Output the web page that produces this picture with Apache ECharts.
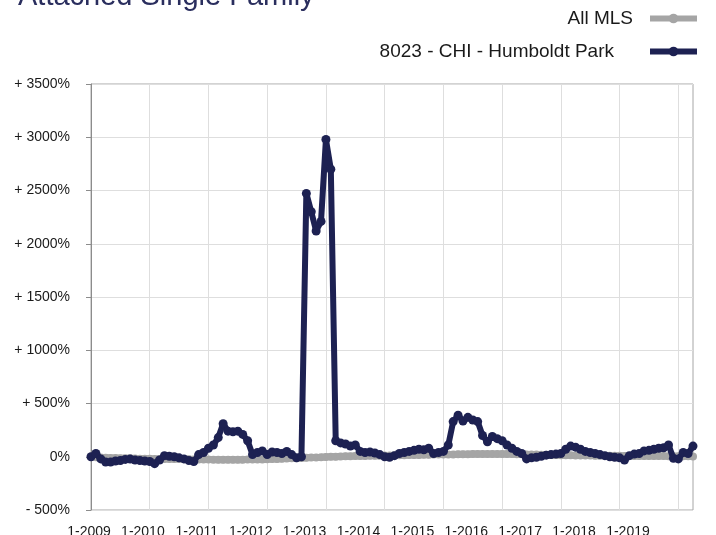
<!DOCTYPE html>
<html>
<head>
<meta charset="utf-8">
<script src="https://cdn.jsdelivr.net/npm/echarts@6/dist/echarts.min.js"></script>
<style>
  html, body { margin: 0; padding: 0; background: #fff; }
  #chart { width: 716px; height: 535px; }
</style>
</head>
<body>
<div id="chart"></div>
<script>
// year tick labels shown under the axis
var yearLabels = ['1-2009', '1-2010', '1-2011', '1-2012', '1-2013', '1-2014',
                  '1-2015', '1-2016', '1-2017', '1-2018', '1-2019'];

// monthly categories, 1-2009 .. 4-2019
var months = [];
for (var y = 2009; y <= 2019; y++) {
  for (var m = 1; m <= 12; m++) {
    if (y === 2019 && m > 4) break;
    months.push(m + '-' + y);
  }
}

// % change, All MLS
var allMls = [
  0, -5, -8, -10, -12, -12, -14, -15, -15, -16, -18, -18,
  -18, -20, -20, -20, -22, -22, -22, -24, -24, -25, -25, -26,
  -26, -27, -28, -28, -28, -28, -27, -27, -26, -26, -25, -25,
  -24, -22, -20, -18, -17, -15, -14, -12, -10, -8, -6, -5,
  -3, -1, 0, 2, 4, 5, 6, 7, 8, 9, 10, 10,
  11, 12, 13, 14, 15, 16, 17, 17, 18, 19, 20, 20,
  21, 22, 22, 23, 24, 24, 25, 25, 25, 26, 26, 26,
  26, 25, 25, 24, 23, 22, 21, 20, 19, 18, 17, 16,
  15, 14, 13, 12, 12, 11, 11, 10, 10, 10, 9, 9,
  9, 8, 8, 8, 7, 7, 7, 6, 6, 6, 5, 5,
  5, 4, 4, 3
];

// % change, 8023 - CHI - Humboldt Park
var humboldt = [
  0, 30, -20, -50, -50, -40, -35, -25, -22, -30, -35, -40,
  -45, -65, -30, 10, 5, 0, -10, -20, -35, -45, 20, 40,
  80, 110, 180, 310, 240, 235, 240, 210, 150, 20, 40, 55,
  20, 45, 40, 30, 50, 20, -10, 0, 2473, 2300, 2120, 2210,
  2980, 2700, 150, 130, 120, 100, 110, 50, 40, 45, 35, 20,
  0, -5, 10, 30, 40, 50, 60, 70, 65, 80, 30, 40,
  50, 110, 330, 390, 335, 370, 345, 330, 200, 140, 190, 170,
  150, 110, 80, 50, 30, -20, -10, -5, 5, 15, 20, 25,
  30, 70, 100, 90, 70, 50, 40, 30, 20, 10, 0, -5,
  -10, -30, 10, 25, 30, 55, 60, 70, 80, 85, 110, -15,
  -20, 40, 30, 100
];

var navy = '#1d2152';
var grey = '#a5a5a5';

var myChart = echarts.init(document.getElementById('chart'));

var option = {
  animation: false,
  title: {
    text: 'Attached Single Family',
    left: 18,
    top: -18,
    padding: 0,
    textStyle: { color: '#2a2e5e', fontSize: 29, fontWeight: 'normal', fontFamily: 'Liberation Sans' }
  },
  legend: [
    {
      data: ['All MLS'],
      right: 16, top: 9, padding: 0,
      align: 'right',
      itemWidth: 47, itemHeight: 12,
      lineStyle: { width: 6 },
      textStyle: { fontSize: 19, color: '#1a1a1a', fontFamily: 'Liberation Sans', padding: [0, 12, 0, 0] }
    },
    {
      data: ['8023 - CHI - Humboldt Park'],
      right: 16, top: 42, padding: 0,
      align: 'right',
      itemWidth: 47, itemHeight: 12,
      lineStyle: { width: 6 },
      textStyle: { fontSize: 19, color: '#1a1a1a', fontFamily: 'Liberation Sans', padding: [0, 31, 0, 0] }
    }
  ],
  grid: {
    left: 91, right: 23, top: 84, bottom: 25,
    outerBoundsMode: 'none',
    containLabel: false,
    show: true, borderColor: '#a6a6a6', borderWidth: 1
  },
  xAxis: [
    {
      type: 'category',
      data: months,
      boundaryGap: false,
      axisLine: { show: false },
      axisTick: { show: false },
      axisLabel: { show: false },
      splitLine: {
        show: true,
        interval: function (idx) { return idx % 12 === 0; },
        lineStyle: { color: '#dedede', width: 1 }
      }
    },
    {
      type: 'value',
      position: 'bottom',
      min: 0, max: 11.17, interval: 1,
      axisLine: { show: false },
      axisTick: { show: false },
      splitLine: { show: false },
      axisLabel: {
        margin: 15,
        fontSize: 14, color: '#1a1a1a', fontFamily: 'Liberation Sans',
        padding: [0, 4, 0, 0],
        formatter: function (v) {
          return (Math.round(v) === v && yearLabels[v]) ? yearLabels[v] : '';
        }
      }
    }
  ],
  yAxis: {
    type: 'value',
    min: -500, max: 3500, interval: 500,
    axisLine: { show: true, lineStyle: { color: '#8c8c8c' } },
    axisTick: { show: true, length: 5, lineStyle: { color: '#8c8c8c' } },
    axisLabel: {
      margin: 21,
      fontSize: 14, color: '#1a1a1a', fontFamily: 'Liberation Sans',
      formatter: function (v) {
        if (v > 0) return '+ ' + v + '%';
        if (v < 0) return '- ' + Math.abs(v) + '%';
        return '0%';
      }
    },
    splitLine: { lineStyle: { color: '#dedede' } }
  },
  series: [
    {
      name: 'All MLS',
      type: 'line',
      data: allMls,
      symbol: 'circle', symbolSize: 8,
      showAllSymbol: true,
      lineStyle: { color: grey, width: 7 },
      itemStyle: { color: grey },
      z: 2
    },
    {
      name: '8023 - CHI - Humboldt Park',
      type: 'line',
      data: humboldt,
      symbol: 'circle', symbolSize: 9,
      showAllSymbol: true,
      lineStyle: { color: navy, width: 6 },
      itemStyle: { color: navy },
      z: 3
    }
  ]
};
myChart.setOption(option);
</script>
</body>
</html>
